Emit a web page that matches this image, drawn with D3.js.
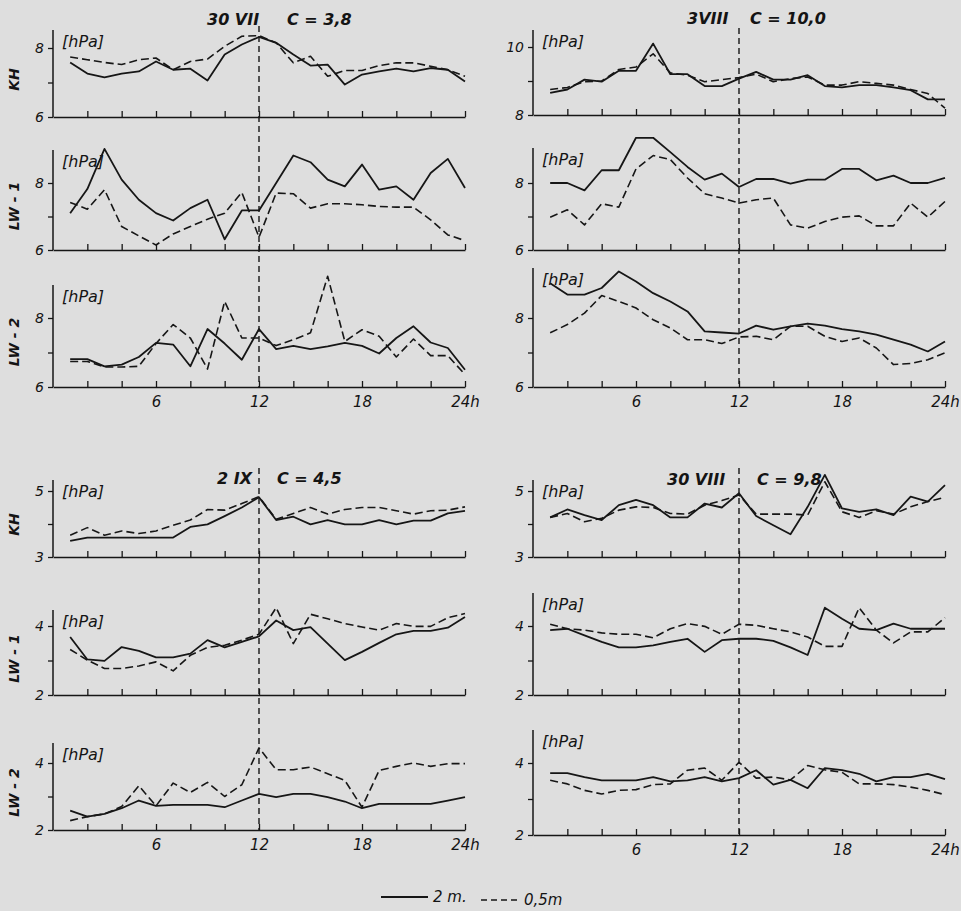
<!DOCTYPE html>
<html lang="pl">
<head>
<meta charset="UTF-8">
<script src="https://cdnjs.cloudflare.com/ajax/libs/d3/7.8.5/d3.min.js"></script>
<title>KH / LW-1 / LW-2</title>
<style>
  body { margin: 0; background: #dedede; }
  svg text { font-family: "Liberation Sans Narrow", "DejaVu Sans", sans-serif; font-style: italic; fill: #141414; }
</style>
</head>
<body>
<script>
// godziny pomiarow
var hours = d3.range(1, 25);
var xTicks = d3.range(2, 25, 2);
var xLabels = { 6: "6", 12: "12", 18: "18", 24: "24h" };

// 30 VII, C = 3,8
var kh_30VII_2m   = [7.58,7.26,7.15,7.26,7.32,7.61,7.37,7.40,7.06,7.81,8.10,8.32,8.15,7.81,7.49,7.52,6.94,7.23,7.32,7.40,7.32,7.42,7.37,7.03];
var kh_30VII_05m  = [7.74,7.66,7.58,7.52,7.66,7.71,7.37,7.61,7.68,8.05,8.34,8.36,8.15,7.57,7.76,7.18,7.35,7.35,7.49,7.57,7.57,7.47,7.37,7.18];
var lw1_30VII_2m  = [7.10,7.82,9.02,8.10,7.50,7.10,6.88,7.25,7.50,6.32,7.18,7.18,8.00,8.82,8.62,8.10,7.90,8.55,7.80,7.90,7.50,8.30,8.72,7.85];
var lw1_30VII_05m = [7.42,7.22,7.80,6.70,6.42,6.15,6.48,6.70,6.92,7.10,7.72,6.38,7.70,7.68,7.25,7.38,7.38,7.35,7.30,7.28,7.28,6.90,6.45,6.28];
var lw2_30VII_2m  = [6.81,6.81,6.60,6.65,6.87,7.28,7.23,6.60,7.68,7.26,6.79,7.68,7.10,7.19,7.10,7.18,7.28,7.19,6.97,7.42,7.76,7.29,7.13,6.50];
var lw2_30VII_05m = [6.74,6.74,6.58,6.58,6.60,7.26,7.81,7.42,6.52,8.48,7.42,7.42,7.20,7.37,7.57,9.21,7.32,7.66,7.47,6.87,7.39,6.91,6.91,6.36];

// 3 VIII, C = 10,0
var kh_3VIII_2m   = [8.65,8.75,9.04,8.98,9.30,9.30,10.10,9.20,9.20,8.85,8.85,9.07,9.27,9.04,9.04,9.17,8.85,8.81,8.88,8.88,8.81,8.73,8.46,8.46];
var kh_3VIII_05m  = [8.75,8.81,8.98,9.00,9.34,9.41,9.80,9.24,9.17,8.98,9.04,9.10,9.20,8.98,9.07,9.12,8.88,8.88,8.98,8.93,8.88,8.75,8.63,8.20];
var lw1_3VIII_2m  = [8.00,8.00,7.78,8.38,8.38,9.35,9.35,8.92,8.48,8.10,8.28,7.88,8.12,8.12,7.98,8.10,8.10,8.42,8.42,8.08,8.22,8.00,8.00,8.15];
var lw1_3VIII_05m = [6.98,7.20,6.75,7.38,7.28,8.42,8.82,8.70,8.15,7.68,7.55,7.40,7.50,7.55,6.75,6.65,6.85,6.98,7.02,6.72,6.72,7.40,6.98,7.45];
var lw2_3VIII_2m  = [9.01,8.68,8.68,8.87,9.35,9.06,8.72,8.48,8.19,7.61,7.58,7.55,7.78,7.66,7.76,7.84,7.78,7.68,7.61,7.52,7.37,7.23,7.03,7.32];
var lw2_3VIII_05m = [7.57,7.81,8.14,8.65,8.48,8.29,7.95,7.71,7.37,7.37,7.26,7.45,7.47,7.37,7.76,7.76,7.47,7.32,7.42,7.13,6.65,6.68,6.79,6.99];

// 2 IX, C = 4,5
var kh_2IX_2m   = [3.49,3.59,3.59,3.59,3.59,3.59,3.59,3.91,3.99,4.24,4.50,4.81,4.12,4.22,3.99,4.12,3.99,3.99,4.12,3.99,4.10,4.10,4.32,4.40];
var kh_2IX_05m  = [3.66,3.89,3.66,3.79,3.71,3.79,3.96,4.12,4.44,4.42,4.62,4.83,4.14,4.32,4.50,4.30,4.44,4.50,4.50,4.40,4.30,4.40,4.42,4.52];
var lw1_2IX_2m  = [3.68,3.03,2.99,3.39,3.28,3.09,3.09,3.20,3.59,3.38,3.54,3.70,4.16,3.88,3.97,3.49,3.01,3.25,3.51,3.76,3.86,3.86,3.95,4.26];
var lw1_2IX_05m = [3.32,3.01,2.77,2.77,2.84,2.96,2.70,3.15,3.38,3.44,3.59,3.76,4.53,3.49,4.34,4.21,4.07,3.97,3.88,4.07,3.99,3.99,4.24,4.36];
var lw2_2IX_2m  = [2.58,2.40,2.48,2.65,2.88,2.72,2.75,2.75,2.75,2.68,2.88,3.08,2.98,3.08,3.08,2.98,2.85,2.65,2.78,2.78,2.78,2.78,2.88,2.98];
var lw2_2IX_05m = [2.28,2.40,2.48,2.70,3.32,2.72,3.40,3.12,3.42,3.00,3.35,4.45,3.80,3.80,3.88,3.68,3.48,2.68,3.78,3.90,4.00,3.90,3.98,3.98];

// 30 VIII, C = 9,8
var kh_30VIII_2m   = [4.20,4.44,4.27,4.12,4.57,4.73,4.57,4.20,4.20,4.62,4.50,4.93,4.24,3.96,3.69,4.52,5.49,4.47,4.37,4.44,4.27,4.83,4.68,5.18];
var kh_30VIII_05m  = [4.20,4.32,4.07,4.17,4.42,4.52,4.50,4.32,4.30,4.57,4.71,4.88,4.30,4.30,4.30,4.27,5.28,4.37,4.20,4.40,4.30,4.52,4.68,4.81];
var lw1_30VIII_2m  = [3.88,3.92,3.73,3.54,3.38,3.38,3.44,3.54,3.63,3.25,3.59,3.63,3.63,3.57,3.38,3.16,4.53,4.21,3.92,3.88,4.07,3.92,3.92,3.92];
var lw1_30VIII_05m = [4.05,3.92,3.88,3.80,3.76,3.76,3.66,3.92,4.07,3.99,3.76,4.05,4.02,3.92,3.83,3.68,3.41,3.41,4.53,3.88,3.51,3.83,3.83,4.24];
var lw2_30VIII_2m  = [3.72,3.72,3.61,3.52,3.52,3.52,3.61,3.49,3.52,3.61,3.49,3.58,3.80,3.40,3.53,3.30,3.86,3.80,3.70,3.49,3.61,3.61,3.70,3.55];
var lw2_30VIII_05m = [3.52,3.42,3.24,3.14,3.24,3.26,3.40,3.42,3.80,3.86,3.52,4.02,3.58,3.61,3.53,3.93,3.81,3.74,3.42,3.42,3.40,3.33,3.24,3.12];

// uklad paneli
var width = 961, height = 911;
var svg = d3.select("body").append("svg").attr("width", width).attr("height", height);

var groups = [
  { x0: 53,  title: "30 VII",  titleX: 207, c: "C = 3,8",  cX: 287, titleY: 25,  dashTop: 26,  dashBottom: 387, side: true, panels: [
    { name: "KH",     lo: 6, bottom: 117, top2: 48,  axisTop: 30,  s: kh_30VII_2m,  d: kh_30VII_05m },
    { name: "LW - 1", lo: 6, bottom: 250, top2: 183, axisTop: 150, s: lw1_30VII_2m, d: lw1_30VII_05m },
    { name: "LW - 2", lo: 6, bottom: 387, top2: 318, axisTop: 285, s: lw2_30VII_2m, d: lw2_30VII_05m, labels: true } ] },
  { x0: 533, title: "3VIII",   titleX: 687, c: "C = 10,0", cX: 750, titleY: 24,  dashTop: 28,  dashBottom: 387, side: false, panels: [
    { name: "KH",     lo: 8, bottom: 115, top2: 47,  axisTop: 30,  s: kh_3VIII_2m,  d: kh_3VIII_05m },
    { name: "LW - 1", lo: 6, bottom: 250, top2: 183, axisTop: 148, s: lw1_3VIII_2m, d: lw1_3VIII_05m },
    { name: "LW - 2", lo: 6, bottom: 387, top2: 318, axisTop: 268, s: lw2_3VIII_2m, d: lw2_3VIII_05m, labels: true } ] },
  { x0: 53,  title: "2 IX",    titleX: 217, c: "C = 4,5",  cX: 277, titleY: 484, dashTop: 468, dashBottom: 830, side: true, panels: [
    { name: "KH",     lo: 3, bottom: 557, top2: 491, axisTop: 480, s: kh_2IX_2m,  d: kh_2IX_05m },
    { name: "LW - 1", lo: 2, bottom: 695, top2: 626, axisTop: 610, s: lw1_2IX_2m, d: lw1_2IX_05m },
    { name: "LW - 2", lo: 2, bottom: 830, top2: 763, axisTop: 743, s: lw2_2IX_2m, d: lw2_2IX_05m, labels: true } ] },
  { x0: 533, title: "30 VIII", titleX: 667, c: "C = 9,8",  cX: 757, titleY: 485, dashTop: 468, dashBottom: 835, side: false, panels: [
    { name: "KH",     lo: 3, bottom: 557, top2: 491, axisTop: 480, s: kh_30VIII_2m,  d: kh_30VIII_05m },
    { name: "LW - 1", lo: 2, bottom: 695, top2: 626, axisTop: 593, s: lw1_30VIII_2m, d: lw1_30VIII_05m },
    { name: "LW - 2", lo: 2, bottom: 835, top2: 763, axisTop: 730, s: lw2_30VIII_2m, d: lw2_30VIII_05m, labels: true } ] }
];

var ink = "#161616";

groups.forEach(function (grp) {
  var x = d3.scaleLinear().domain([0, 24]).range([grp.x0, grp.x0 + 412]);
  var g = svg.append("g");

  // tytul
  g.append("text").attr("x", grp.titleX).attr("y", grp.titleY)
    .attr("font-size", 16).attr("font-weight", "bold").text(grp.title);
  g.append("text").attr("x", grp.cX).attr("y", grp.titleY)
    .attr("font-size", 16).attr("font-weight", "bold").text(grp.c);

  // przerywana linia w poludnie
  g.append("line")
    .attr("x1", x(12)).attr("x2", x(12))
    .attr("y1", grp.dashTop).attr("y2", grp.dashBottom)
    .attr("stroke", ink).attr("stroke-width", 1.4).attr("stroke-dasharray", "6,4");

  grp.panels.forEach(function (p) {
    var y = d3.scaleLinear().domain([p.lo, p.lo + 2]).range([p.bottom, p.top2]);
    var pg = g.append("g");

    // os X
    var ax = d3.axisBottom(x).tickValues(xTicks).tickSizeInner(-6).tickSizeOuter(0).tickPadding(9)
      .tickFormat(function (d) { return p.labels && xLabels[d] ? xLabels[d] : ""; });
    var axg = pg.append("g").attr("transform", "translate(0," + y(p.lo) + ")").call(ax);
    axg.select(".domain").attr("stroke", ink).attr("stroke-width", 1.5);
    axg.selectAll(".tick line").attr("stroke", ink).attr("stroke-width", 1.3);
    axg.selectAll(".tick text").attr("font-size", 15).attr("fill", ink)
      .style("font-family", "'Liberation Sans Narrow','DejaVu Sans',sans-serif").style("font-style", "italic");

    // os Y
    var ay = d3.axisLeft(y).tickValues([p.lo, p.lo + 1, p.lo + 2]).tickSize(5).tickPadding(4)
      .tickFormat(function (d) { return d === p.lo + 1 ? "" : d; });
    var ayg = pg.append("g").attr("transform", "translate(" + x(0) + ",0)").call(ay);
    ayg.select(".domain").remove();
    ayg.selectAll(".tick line").attr("stroke", ink).attr("stroke-width", 1.3);
    ayg.selectAll(".tick text").attr("font-size", 14).attr("fill", ink)
      .style("font-family", "'Liberation Sans Narrow','DejaVu Sans',sans-serif").style("font-style", "italic");
    pg.append("line").attr("x1", x(0)).attr("x2", x(0))
      .attr("y1", y(p.lo)).attr("y2", p.axisTop)
      .attr("stroke", ink).attr("stroke-width", 1.5);

    // jednostka
    pg.append("text").attr("x", x(0) + 9).attr("y", p.axisTop + 17)
      .attr("font-size", 16).text("[hPa]");

    // nazwa stanowiska
    if (grp.side) {
      var cy = (p.axisTop + p.bottom) / 2 + 6;
      pg.append("text").attr("transform", "translate(19," + cy + ") rotate(-90)")
        .attr("text-anchor", "middle").attr("font-size", 14).attr("font-weight", "bold").text(p.name);
    }

    var line = d3.line().x(function (d, i) { return x(hours[i]); }).y(function (d) { return y(d); });
    pg.append("path").datum(p.d).attr("d", line)
      .attr("fill", "none").attr("stroke", ink).attr("stroke-width", 1.6)
      .attr("stroke-dasharray", "8,4").attr("stroke-linejoin", "round");
    pg.append("path").datum(p.s).attr("d", line)
      .attr("fill", "none").attr("stroke", ink).attr("stroke-width", 1.8).attr("stroke-linejoin", "round");
  });
});

// legenda
var leg = svg.append("g");
leg.append("line").attr("x1", 381).attr("x2", 428).attr("y1", 897).attr("y2", 897)
  .attr("stroke", ink).attr("stroke-width", 1.8);
leg.append("text").attr("x", 433).attr("y", 902).attr("font-size", 15).text("2 m.");
leg.append("line").attr("x1", 481).attr("x2", 518).attr("y1", 900).attr("y2", 900)
  .attr("stroke", ink).attr("stroke-width", 1.6).attr("stroke-dasharray", "6,4");
leg.append("text").attr("x", 524).attr("y", 905).attr("font-size", 15).text("0,5m");
</script>
</body>
</html>
